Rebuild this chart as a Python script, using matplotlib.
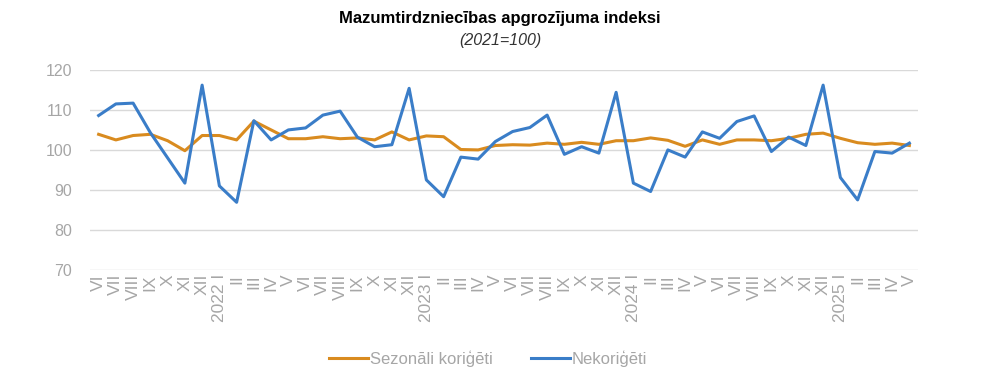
import matplotlib.pyplot as plt

plt.rcParams['font.family'] = ['Liberation Sans', 'DejaVu Sans']

months = ["VI", "VII", "VIII", "IX", "X", "XI", "XII"] + \
    ["I", "II", "III", "IV", "V", "VI", "VII", "VIII", "IX", "X", "XI", "XII"] * 3 + \
    ["I", "II", "III", "IV", "V"]
years = {7: "2022", 19: "2023", 31: "2024", 43: "2025"}
labels = [(years[i] + " " + m) if i in years else m for i, m in enumerate(months)]

# seasonally adjusted
sezonali = [103.9, 102.5, 103.6, 103.9, 102.3, 99.8, 103.6, 103.6, 102.5, 107.2,
            105.0, 102.8, 102.8, 103.3, 102.8, 103.0, 102.5, 104.5, 102.5, 103.5,
            103.3, 100.1, 100.0, 101.1, 101.3, 101.2, 101.7, 101.4, 101.9, 101.4,
            102.3, 102.3, 103.0, 102.4, 100.9, 102.5, 101.4, 102.5, 102.5, 102.3,
            102.9, 103.9, 104.2, 102.9, 101.8, 101.4, 101.7, 101.1]
# not adjusted
nekorigeti = [108.6, 111.5, 111.7, 104.3, 98.0, 91.7, 116.2, 91.0, 86.9, 107.3,
              102.5, 105.0, 105.5, 108.7, 109.7, 103.2, 100.8, 101.3, 115.4, 92.5,
              88.3, 98.2, 97.7, 102.1, 104.6, 105.6, 108.7, 98.9, 100.8, 99.2,
              114.4, 91.7, 89.6, 100.0, 98.2, 104.5, 102.9, 107.1, 108.5, 99.6,
              103.2, 101.1, 116.2, 93.1, 87.5, 99.6, 99.2, 101.7]

fig = plt.figure(figsize=(10, 3.78), dpi=100)
ax = fig.add_axes([0.09, 0.286, 0.828, 0.529])

x = range(len(months))
ax.plot(x, sezonali, color='#d98b1f', lw=2.2, label='Sezonāli koriģēti', zorder=3)
ax.plot(x, nekorigeti, color='#3a7dc8', lw=2.2, label='Nekoriģēti', zorder=4)

ax.set_xlim(-0.5, len(months) - 0.5)
ax.set_ylim(70, 120)
ax.set_yticks([70, 80, 90, 100, 110, 120])
ax.grid(axis='y', color='#d9d9d9', lw=1)
ax.set_axisbelow(True)
for s in ax.spines.values():
    s.set_visible(False)
ax.tick_params(axis='both', length=0, colors='#a6a6a6', labelsize=11.5)
ax.tick_params(axis='y', pad=13)
ax.tick_params(axis='x', pad=3)
ax.set_xticks(list(x))
ax.set_xticklabels(labels, rotation=90, fontsize=12.5, color='#a6a6a6')

fig.text(0.5, 0.952, 'Mazumtirdzniecības apgrozījuma indeksi', ha='center', va='center',
         fontsize=12, fontweight='bold', color='#000000')
fig.text(0.5, 0.892, '(2021=100)', ha='center', va='center', fontsize=11.5,
         style='italic', color='#333333')

leg = fig.legend(loc='center', bbox_to_anchor=(0.488, 0.052), ncol=2, frameon=False,
                 fontsize=12, handlelength=2.35, handletextpad=0.1, columnspacing=2.3)
for t in leg.get_texts():
    t.set_color('#a6a6a6')

fig.savefig('out.png', dpi=100)
